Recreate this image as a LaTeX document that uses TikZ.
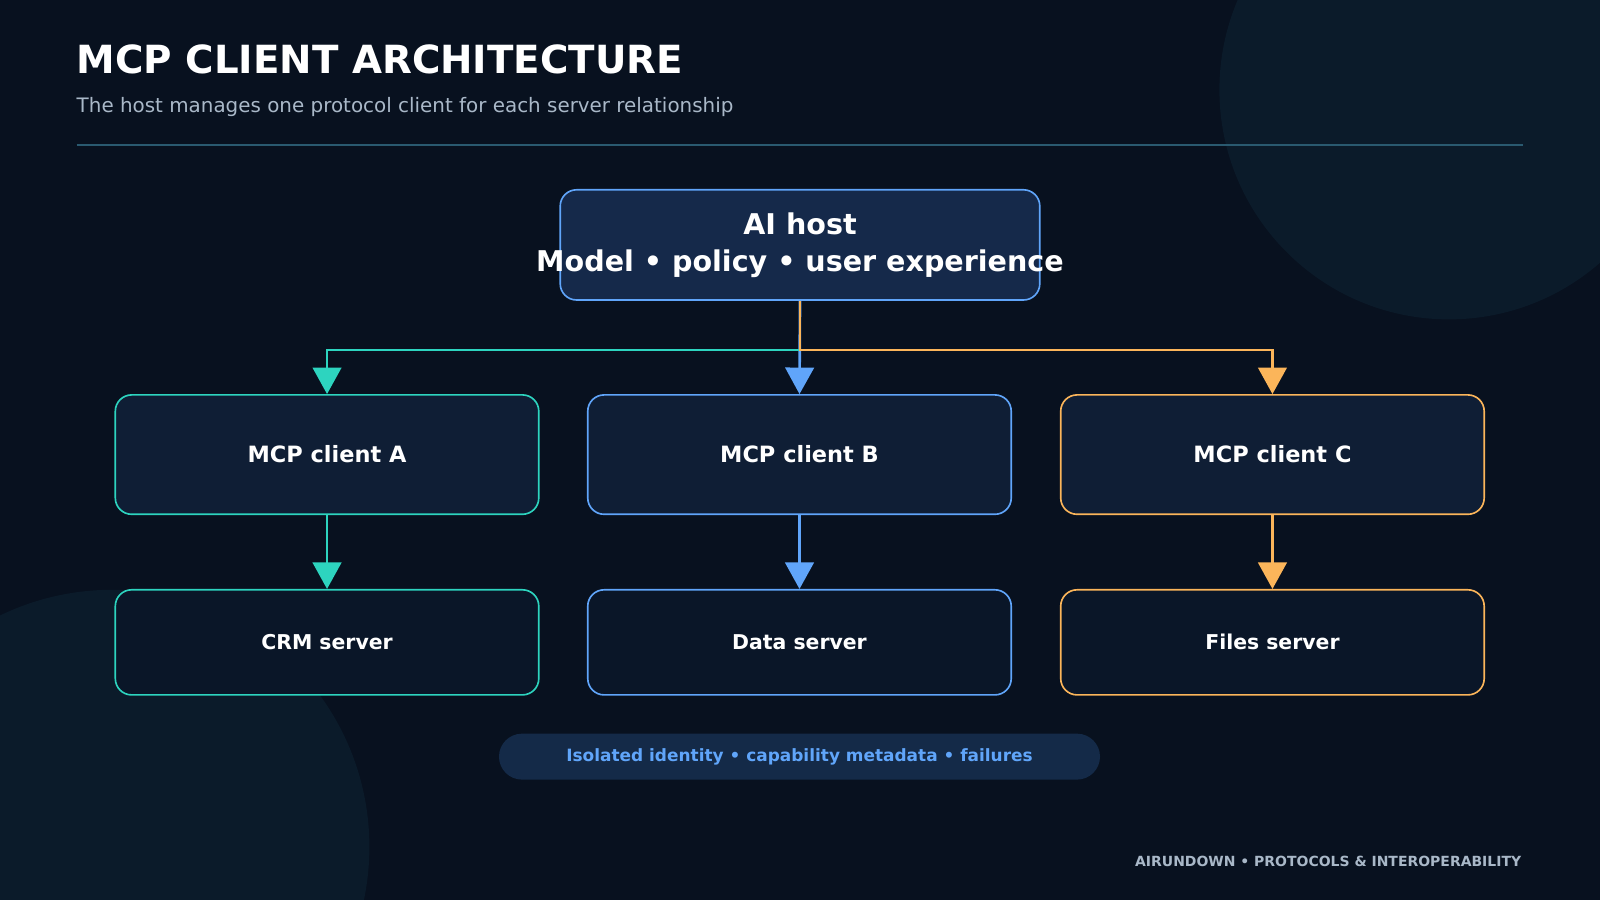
\documentclass[tikz,border=0pt]{standalone}
\usepackage{fontspec}
\setmainfont{DejaVu Sans}
\usetikzlibrary{arrows.meta}
\definecolor{bgdark}{HTML}{08111F}
\definecolor{bgcirc}{HTML}{0B1B2A}
\definecolor{hostfill}{HTML}{15294A}
\definecolor{clientfill}{HTML}{0F1E35}
\definecolor{serverfill}{HTML}{0A1628}
\definecolor{tealc}{HTML}{2DD4BF}
\definecolor{bluec}{HTML}{60A5FA}
\definecolor{orangec}{HTML}{FBB55A}
\definecolor{subgray}{HTML}{A9B8C8}
\definecolor{rulec}{HTML}{2A5A70}
\definecolor{pillfill}{HTML}{142A48}
\tikzset{
  box/.style={draw, rounded corners=16pt, line width=1.6pt, text=white, font=\bfseries},
  client/.style={box, fill=clientfill, minimum width=415pt, minimum height=117pt, font=\bfseries\fontsize{22}{26}\selectfont},
  server/.style={box, fill=serverfill, minimum width=415pt, minimum height=103pt, font=\bfseries\fontsize{20}{24}\selectfont},
  link/.style={line width=2.6pt, -{Triangle[width=28pt,length=26pt]}},
}
\begin{document}
\begin{tikzpicture}[x=1pt,y=-1pt]
  \useasboundingbox (0,0) rectangle (1568,882);
  \fill[bgdark] (0,0) rectangle (1568,882);
  \begin{scope}
    \clip (0,0) rectangle (1568,882);
    \fill[bgcirc] (1420,88) circle (225);
    \fill[bgcirc] (110,830) circle (252);
  \end{scope}
  % title
  \node[anchor=base west, text=white, font=\bfseries\fontsize{38}{42}\selectfont, inner sep=0] (title) at (75,72) {MCP CLIENT ARCHITECTURE};
  \node[anchor=base west, text=subgray, font=\fontsize{19.5}{22}\selectfont, inner sep=0] (subtitle) at (75,110) {The host manages one protocol client for each server relationship};
  \draw[rulec, line width=1.2pt] (75,142) -- (1493,142);
  % host
  \node[box, fill=hostfill, draw=bluec, minimum width=470pt, minimum height=108pt] (host) at (784,240) {};
  \node[text=white, align=center, font=\bfseries\fontsize{28}{36}\selectfont] (hosttext) at (host.center) {AI host\\Model • policy • user experience};
  % clients
  \node[client, draw=tealc] (clientA) at (320.5,445.5) {MCP client A};
  \node[client, draw=bluec] (clientB) at (783.5,445.5) {MCP client B};
  \node[client, draw=orangec] (clientC) at (1247,445.5) {MCP client C};
  % servers
  \node[server, draw=tealc] (serverA) at (320.5,629.5) {CRM server};
  \node[server, draw=bluec] (serverB) at (783.5,629.5) {Data server};
  \node[server, draw=orangec] (serverC) at (1247,629.5) {Files server};
  % links
  \draw[link, bluec] (host.south) -- (clientB.north);
  \draw[link, tealc] (host.south) |- (784,343) -| (clientA.north);
  \draw[link, orangec] (host.south) |- (784,343) -| (clientC.north);
  \draw[link, tealc] (clientA) -- (serverA);
  \draw[link, bluec] (clientB) -- (serverB);
  \draw[link, orangec] (clientC) -- (serverC);
  % pill
  \node[fill=pillfill, rounded corners=22.5pt, minimum width=589pt, minimum height=45pt, text=bluec, font=\bfseries\fontsize{16.6}{20}\selectfont] (pill) at (783.5,741.5) {Isolated identity • capability metadata • failures};
  % footer
  \node[anchor=base east, text=subgray, font=\bfseries\fontsize{13.7}{16}\selectfont, inner sep=0] (footer) at (1491,849) {AIRUNDOWN • PROTOCOLS \& INTEROPERABILITY};
\end{tikzpicture}
\end{document}
